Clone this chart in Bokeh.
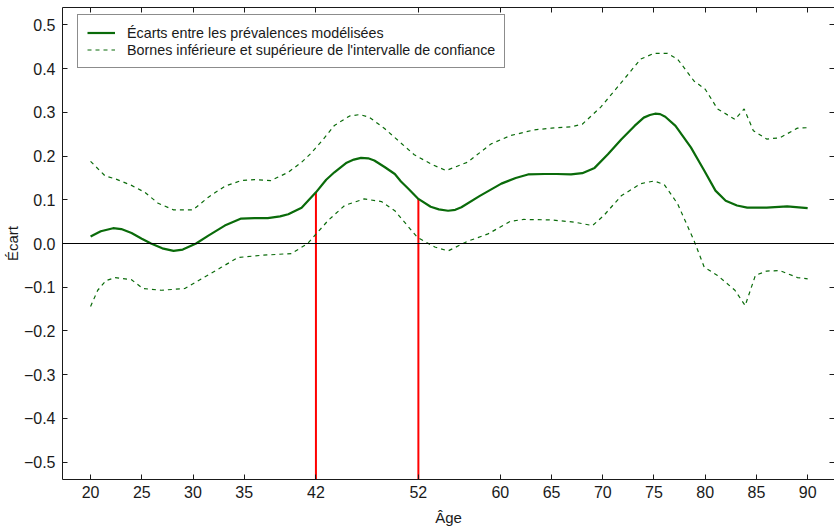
from bokeh.plotting import figure
from bokeh.models import (Range1d, FixedTicker, LinearAxis, Span, Legend, LegendItem)
from bokeh.embed import file_html
from bokeh.resources import INLINE

# ---- data ----
age_ecart = [20, 21, 22.2, 23, 24, 25, 25.9, 27, 28.1, 29, 30.3, 31.5, 33.1, 34.7, 36, 37.3,
             38.5, 39.3, 40.6, 42, 43, 43.8, 45, 45.7, 46.4, 47.1, 47.7, 48.7, 49.7, 50.3, 51,
             52, 53.2, 54, 54.9, 55.6, 56.2, 58, 60.1, 61.5, 62.7, 64.3, 65.5, 66.9, 68, 69.2,
             70.5, 71.8, 73.1, 74, 74.6, 75.1, 75.6, 76.1, 77.1, 78.6, 79.9, 81, 82, 83.1, 84.1,
             86, 88, 90]
ecart = [0.016, 0.028, 0.035, 0.033, 0.024, 0.011, 0.0, -0.011, -0.017, -0.014, 0.0, 0.018,
         0.041, 0.057, 0.058, 0.058, 0.062, 0.067, 0.082, 0.117, 0.146, 0.163, 0.185, 0.192,
         0.196, 0.195, 0.190, 0.175, 0.159, 0.142, 0.126, 0.102, 0.084, 0.078, 0.075, 0.077,
         0.083, 0.109, 0.137, 0.150, 0.158, 0.159, 0.159, 0.158, 0.161, 0.173, 0.204, 0.238,
         0.269, 0.288, 0.294, 0.297, 0.296, 0.290, 0.269, 0.220, 0.167, 0.121, 0.098, 0.087,
         0.082, 0.082, 0.085, 0.081]

age_upper = [20, 21.4, 22.4, 24, 25.3, 26.6, 28.1, 30, 31.5, 33.1, 34.7, 36, 37.6, 39.3, 40.6,
             41.5, 42.7, 43.8, 45.3, 46.3, 47.2, 48.7, 50.2, 51.6, 53.4, 54.7, 56.8, 59.1, 61,
             63.3, 65, 66.9, 68, 69.8, 71.8, 73.7, 75, 76.3, 77.3, 78.9, 80, 81.2, 82.9, 83.8,
             84.7, 86, 87.3, 89, 90]
upper = [0.188, 0.155, 0.148, 0.133, 0.117, 0.092, 0.077, 0.077, 0.106, 0.131, 0.144, 0.146,
         0.144, 0.163, 0.186, 0.206, 0.238, 0.270, 0.292, 0.295, 0.289, 0.263, 0.232, 0.203,
         0.180, 0.167, 0.186, 0.228, 0.247, 0.260, 0.264, 0.267, 0.273, 0.312, 0.368, 0.422,
         0.435, 0.435, 0.422, 0.372, 0.353, 0.308, 0.284, 0.308, 0.258, 0.239, 0.242, 0.264,
         0.265]

age_lower = [20, 20.7, 21.5, 22.4, 24, 25.1, 26.9, 29.2, 30.8, 32.8, 34.4, 36.7, 39.6, 41.2,
             43.2, 44.8, 46.7, 48.4, 49.7, 51.9, 53.6, 54.9, 56.8, 58.8, 61, 62.3, 64.9, 67.2,
             69, 70.1, 71.8, 73.7, 75, 76, 77.3, 78.9, 79.9, 81.2, 82.9, 83.9, 84.9, 86, 87.3,
             89, 90]
lower = [-0.144, -0.107, -0.085, -0.078, -0.083, -0.103, -0.107, -0.103, -0.081, -0.054,
         -0.032, -0.027, -0.023, 0.0, 0.053, 0.087, 0.102, 0.096, 0.075, 0.014, -0.008, -0.017,
         0.005, 0.022, 0.051, 0.055, 0.054, 0.049, 0.041, 0.064, 0.109, 0.137, 0.143, 0.135,
         0.091, 0.007, -0.054, -0.073, -0.107, -0.142, -0.073, -0.063, -0.062, -0.078, -0.081]

marked_ages = [42, 52]
marked_ecart = [0.117, 0.102]

x_ticks = [20, 25, 30, 35, 42, 52, 60, 65, 70, 75, 80, 85, 90]
y_ticks = [-0.5, -0.4, -0.3, -0.2, -0.1, 0.0, 0.1, 0.2, 0.3, 0.4, 0.5]

label_main = "Écarts entre les prévalences modélisées"
label_ci = "Bornes inférieure et supérieure de l'intervalle de confiance"

Y_MIN, Y_MAX = -0.54, 0.54
FONT = "Liberation Sans"
GREEN = "#0a6b0a"
INK = "#1a1a1a"

p = figure(width=834, height=529, output_backend="svg", toolbar_location=None,
           x_range=Range1d(17.26, 92.62), y_range=Range1d(Y_MIN, Y_MAX),
           min_border_left=61, min_border_right=0, min_border_top=7, min_border_bottom=50)
p.xgrid.visible = False
p.ygrid.visible = False
p.outline_line_color = None
p.background_fill_color = "white"
p.border_fill_color = "white"

# zero line
p.add_layout(Span(location=0, dimension="width", line_color="black", line_width=1))

# red marker lines
p.segment(x0=marked_ages, y0=[Y_MIN] * len(marked_ages), x1=marked_ages, y1=marked_ecart,
          line_color="#ff0000", line_width=2)

r_up = p.line(age_upper, upper, line_color=GREEN, line_width=1.2, line_dash="4 4")
r_lo = p.line(age_lower, lower, line_color=GREEN, line_width=1.2, line_dash="4 4")
r_main = p.line(age_ecart, ecart, line_color=GREEN, line_width=2.2)

tick_lbl_x = {t: str(t) for t in x_ticks}
tick_lbl_y = {t: ("\u2212" if t < 0 else "") + f"{abs(t):.1f}" for t in y_ticks}

for ax in p.xaxis:
    ax.ticker = FixedTicker(ticks=x_ticks)
    ax.major_label_overrides = tick_lbl_x
    ax.axis_label = "Âge"
    ax.axis_label_standoff = 8
    ax.major_label_standoff = 6
for ax in p.yaxis:
    ax.ticker = FixedTicker(ticks=y_ticks)
    ax.major_label_overrides = tick_lbl_y
    ax.axis_label = "Écart"
    ax.axis_label_standoff = 0
    ax.major_label_standoff = 7

for ax in p.axis:
    ax.major_label_text_font_size = "16px"

# top and right frame axes: ticks only, no labels
top_ax = LinearAxis(ticker=FixedTicker(ticks=x_ticks))
right_ax = LinearAxis(ticker=FixedTicker(ticks=y_ticks))
for ax in (top_ax, right_ax):
    ax.major_label_text_color = None
    ax.major_label_text_font_size = "1px"
    ax.major_label_standoff = 0
p.add_layout(top_ax, "above")
p.add_layout(right_ax, "right")

for ax in p.axis:
    ax.axis_line_color = INK
    ax.axis_line_width = 1
    ax.major_tick_line_color = INK
    ax.major_tick_in = 5
    ax.major_tick_out = 0
    ax.minor_tick_line_color = None
    ax.major_label_text_font = FONT
    ax.axis_label_text_font = FONT
    ax.axis_label_text_font_style = "normal"
    ax.axis_label_text_color = INK
    ax.axis_label_text_font_size = "15px"
for ax in list(p.xaxis) + list(p.yaxis):
    if ax is not top_ax and ax is not right_ax:
        ax.major_label_text_color = INK

legend = Legend(items=[LegendItem(label=label_main, renderers=[r_main]),
                       LegendItem(label=label_ci, renderers=[r_up])],
                location=(15, 411))
legend.label_text_font = FONT
legend.label_text_font_size = "14.3px"
legend.label_text_color = INK
legend.border_line_color = INK
legend.border_line_width = 1
legend.background_fill_color = "white"
legend.background_fill_alpha = 1
legend.glyph_width = 28
legend.glyph_height = 17
legend.label_height = 17
legend.label_standoff = 12
legend.spacing = 0
legend.padding = 9
legend.margin = 0
p.add_layout(legend)

open("out.html", "w").write(file_html(p, INLINE))
